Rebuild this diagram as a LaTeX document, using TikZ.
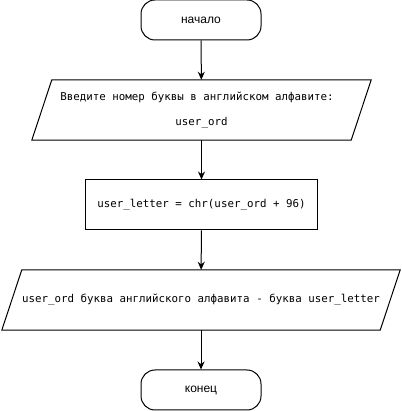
\documentclass[tikz,border=0pt]{standalone}
\usepackage{fontspec}
\setmainfont{Liberation Sans}
\newfontfamily\monofnt{DejaVu Sans Mono}
\usetikzlibrary{arrows.meta}
\tikzset{
  terminal/.style={draw, line width=1pt, rounded corners=14pt, minimum width=120pt, minimum height=40pt, inner sep=0pt, font=\fontsize{12}{14}\selectfont},
  procbox/.style={draw, line width=1pt, minimum width=232pt, minimum height=50pt, inner sep=0pt, font=\monofnt\fontsize{10.8}{12.5}\selectfont},
  iobox/.style={inner sep=0pt, align=center, font=\monofnt\fontsize{10.8}{12.5}\selectfont},
  conn/.style={line width=1pt, -{Stealth[length=8pt,width=7pt]}},
  para/.style={line width=1pt}
}
\begin{document}
\begin{tikzpicture}[x=1pt,y=1pt]
\useasboundingbox (0,0) rectangle (401,411);
\node[terminal] (start) at (201,391) {начало};
\node[iobox, minimum width=339pt, minimum height=60pt] (in1) at (201.5,301) {Введите номер буквы в английском алфавите:\hspace*{9pt}\\[12.5pt]user\_ord};
\draw[para] ([xshift=20pt]in1.north west) -- (in1.north east) -- ([xshift=-20pt]in1.south east) -- (in1.south west) -- cycle;
\node[procbox] (calc) at (201.5,206) {user\_letter = chr(user\_ord + 96)};
\node[iobox, minimum width=398pt, minimum height=60pt] (out) at (201,111) {user\_ord буква английского алфавита - буква user\_letter};
\draw[para] ([xshift=20pt]out.north west) -- (out.north east) -- ([xshift=-20pt]out.south east) -- (out.south west) -- cycle;
\node[terminal] (stop) at (201,21) {конец};
\draw[conn] (start) -- (in1);
\draw[conn] (in1) -- (calc);
\draw[conn] (calc) -- (out);
\draw[conn] (out) -- (stop);
\end{tikzpicture}
\end{document}
